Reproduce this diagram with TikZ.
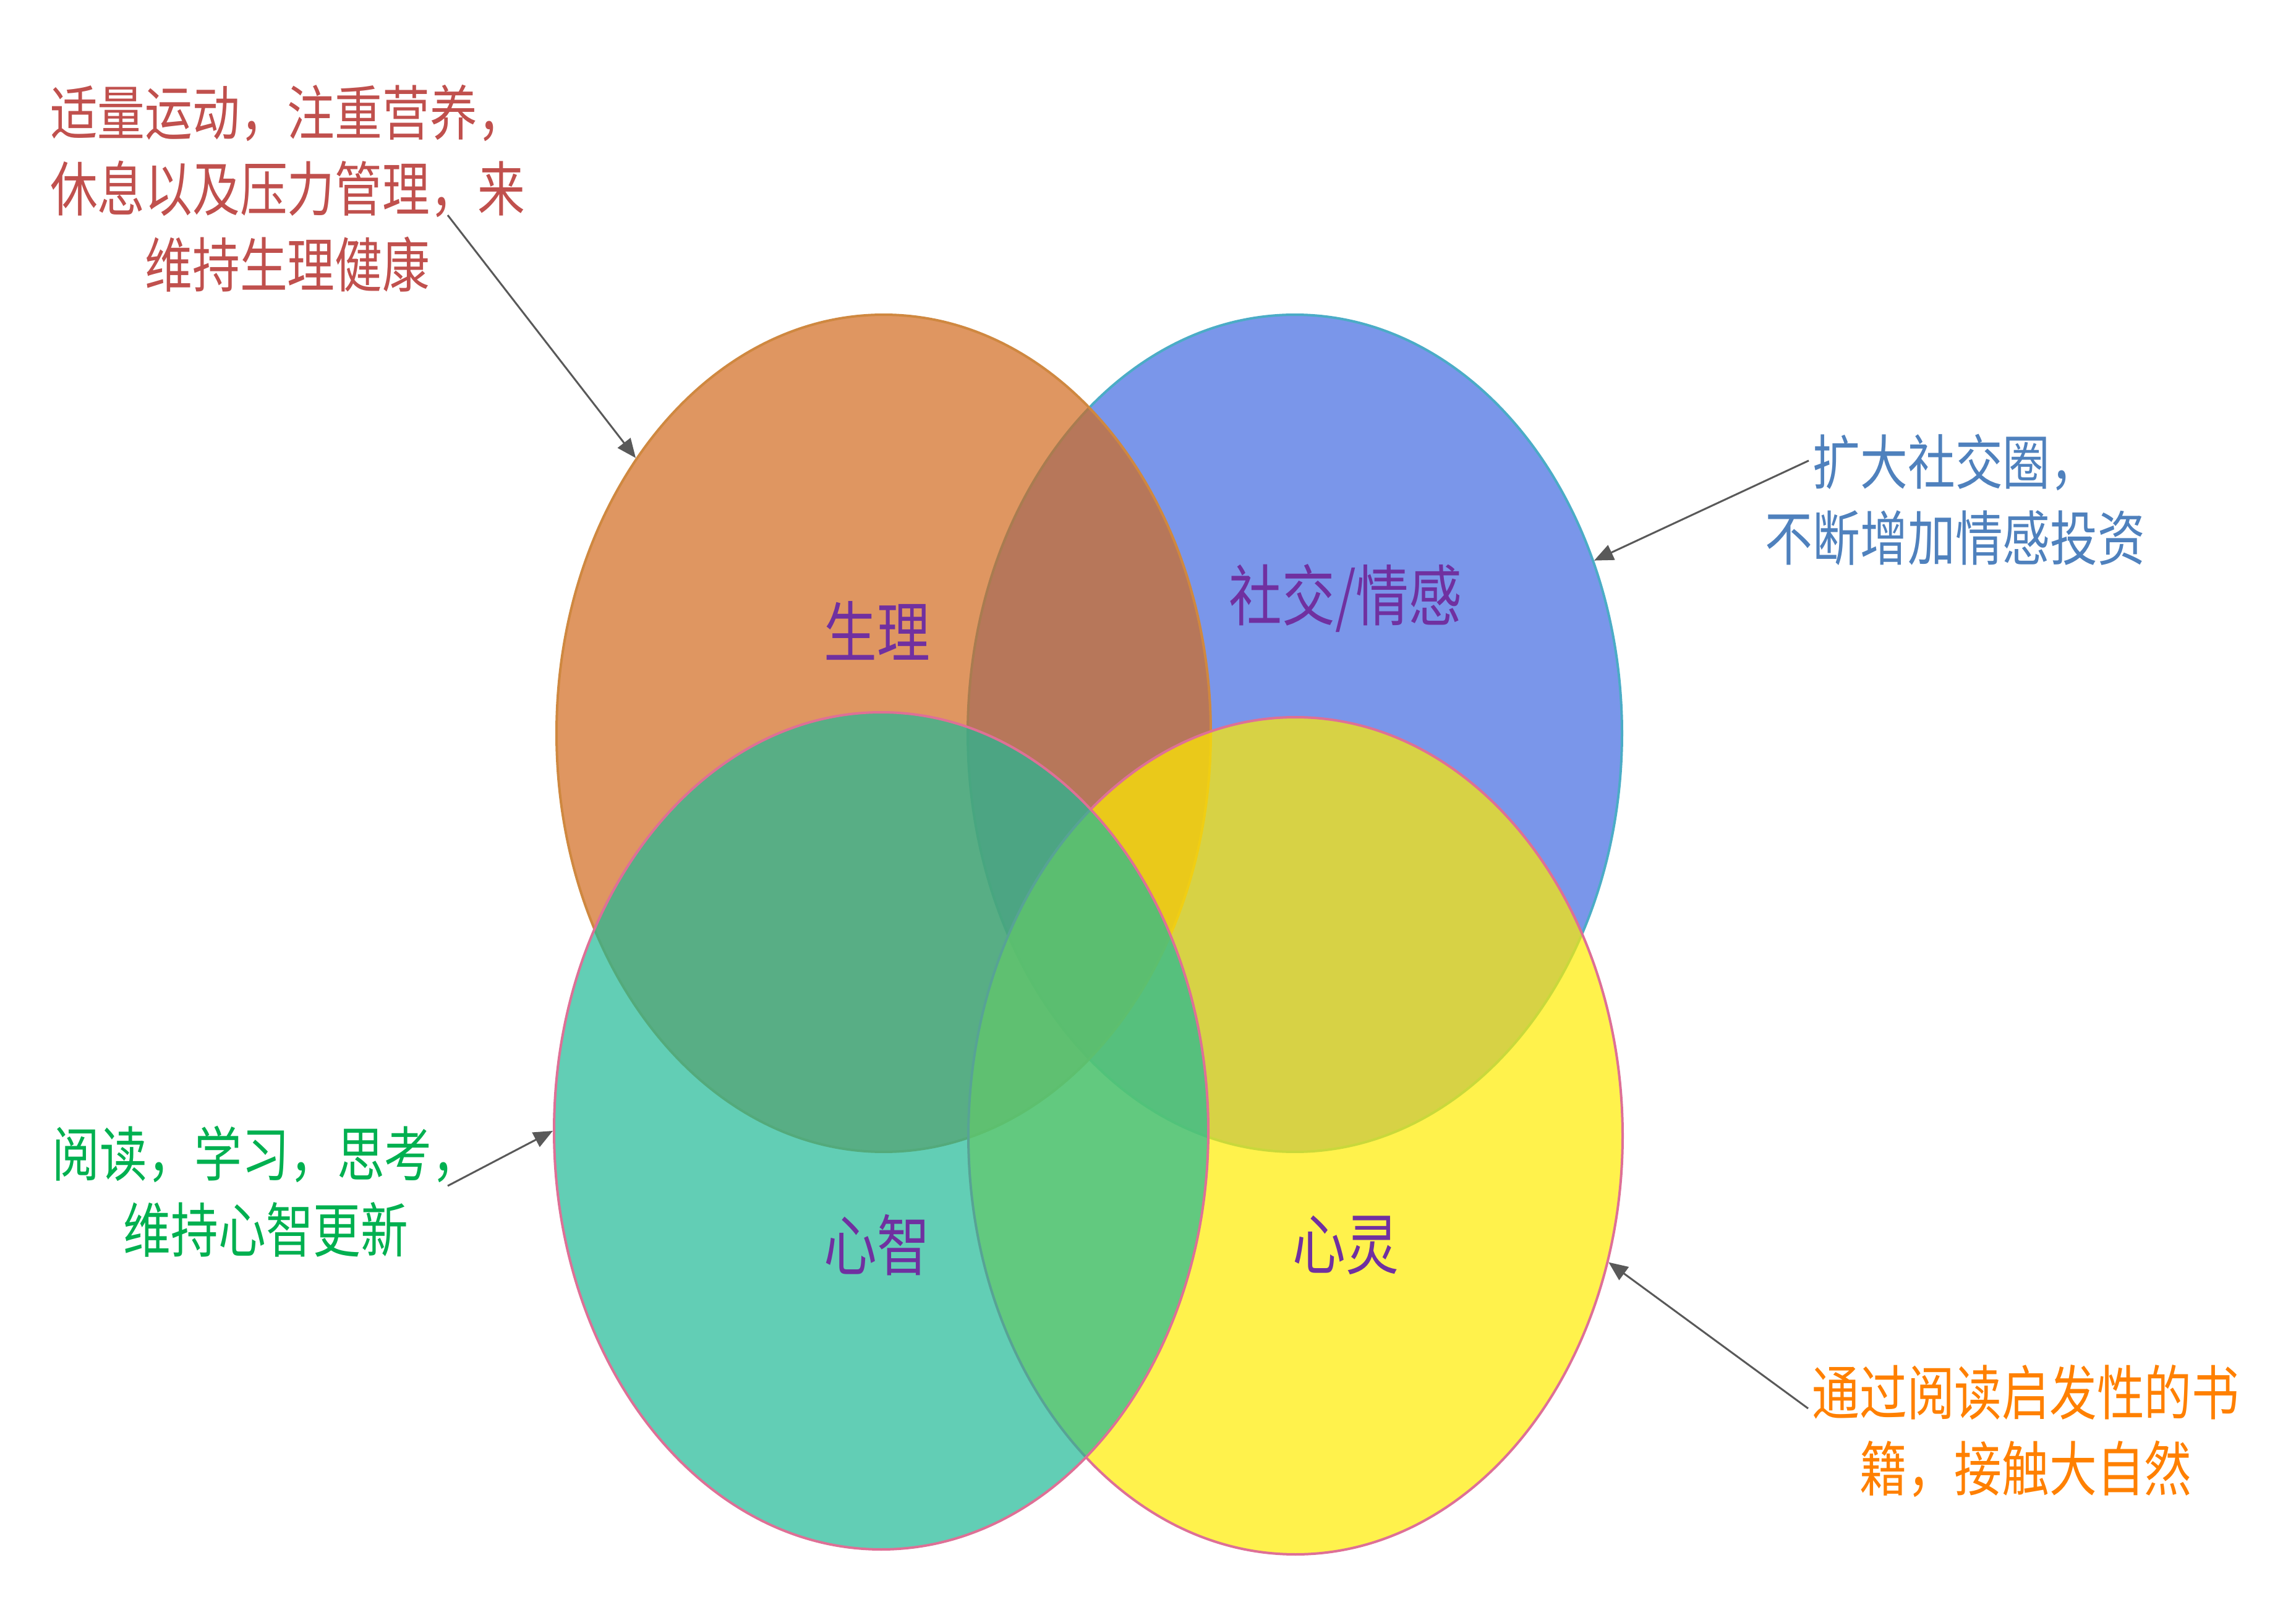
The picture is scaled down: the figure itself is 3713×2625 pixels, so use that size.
\documentclass[tikz,border=0pt]{standalone}
\usepackage{fontspec}
\usepackage{xcolor}
\usepackage{tikz}
\usetikzlibrary{shapes.geometric, arrows.meta, positioning}
\newfontfamily\cjk[FakeStretch=0.8]{Noto Sans CJK SC}
\definecolor{bodyfill}{HTML}{D2691E}
\definecolor{bodyline}{HTML}{CF8840}
\definecolor{socialfill}{HTML}{4169E1}
\definecolor{socialline}{HTML}{4BACC6}
\definecolor{spiritfill}{HTML}{FFEC00}
\definecolor{mindfill}{HTML}{1FB995}
\definecolor{petal}{HTML}{DE7096}
\definecolor{tagink}{HTML}{7030A0}
\definecolor{pointergray}{HTML}{595959}
\definecolor{notered}{HTML}{C0504D}
\definecolor{noteblue}{HTML}{4F81BD}
\definecolor{notegreen}{HTML}{00B050}
\definecolor{noteorange}{HTML}{FF8000}
\tikzset{
  lobe/.style        = {ellipse, minimum width=105.8mm, minimum height=135.4mm,
                        inner sep=0pt, line width=0.4mm, fill opacity=0.7},
  tag/.style         = {font=\cjk\fontsize{30.5}{36}\selectfont, text=tagink},
  note/.style        = {font=\cjk\fontsize{27.3}{35}\selectfont, align=center},
  pointerline/.style = {-{Triangle[length=3.1mm, width=2.6mm]}, draw=pointergray, line width=0.3mm},
}

\begin{document}
\begin{tikzpicture}[x=0.1mm, y=-0.1mm]
  \useasboundingbox (0,0) rectangle (3713,2625);

  \node[lobe, draw=socialline, fill=socialfill] (social) at (2094,1186) {};
  \node[lobe, draw=bodyline, fill=bodyfill]     (body)   at (1429,1186) {};
  \node[lobe, draw=petal, fill=spiritfill]      (spirit) at (2095,1837) {};
  \node[lobe, draw=petal, fill=mindfill]        (mind)   at (1425,1829) {};

  \node[tag] (bodytag)   at (1418,1020) {生理};
  \node[tag] (socialtag) at (2176,968)  {社交/情感};
  \node[tag] (mindtag)   at (1418,2014) {心智};
  \node[tag] (spirittag) at (2176,2014) {心灵};

  \node[note, text=notered]    (bodynote)   at (465,305)   {适量运动，注重营养，\\休息以及压力管理，来\\维持生理健康};
  \node[note, text=noteblue]   (socialnote) at (3162,808)  {扩大社交圈，\\不断增加情感投资};
  \node[note, text=notegreen]  (mindnote)   at (430,1927)  {阅读，学习，思考，\\维持心智更新};
  \node[note, text=noteorange] (spiritnote) at (3276,2315) {通过阅读启发性的书\\籍，接触大自然};

  \coordinate (bodyfrom)   at (724,348);
  \coordinate (socialfrom) at (2925,745);
  \coordinate (mindfrom)   at (724,1918);
  \coordinate (spiritfrom) at (2924,2278);

  \draw[pointerline] (bodyfrom) -- (body.132);
  \draw[pointerline] (socialfrom) -- (social.30);
  \draw[pointerline] (mindfrom) -- (mind.180);
  \draw[pointerline] (spiritfrom) -- (spirit.338);
\end{tikzpicture}
\end{document}
